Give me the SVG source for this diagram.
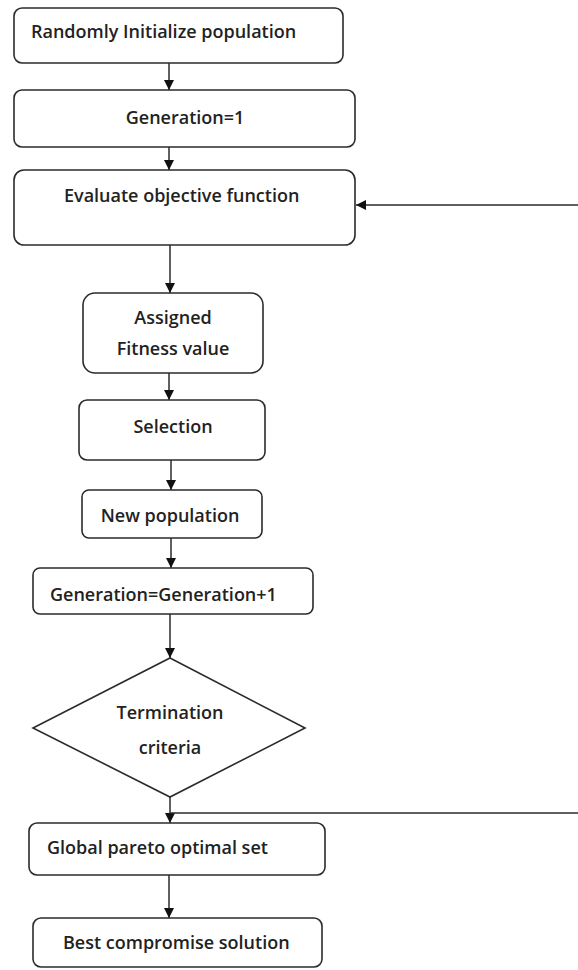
<svg xmlns="http://www.w3.org/2000/svg" width="578" height="970" viewBox="0 0 578 970">
<style>
.box{fill:#fff;stroke:#2b2b2b;stroke-width:1.6}
.t{font-family:"Open Sans","Liberation Sans",sans-serif;font-size:18px;font-weight:600;fill:#222}
.c{fill:none;stroke:#2b2b2b;stroke-width:1.5}
</style>
<defs>
<marker id="ah" viewBox="0 0 10 10" refX="10" refY="5" markerWidth="10" markerHeight="10" markerUnits="userSpaceOnUse" orient="auto">
<path d="M0,0 L10,5 L0,10 Z" fill="#111"/>
</marker>
</defs>
<rect width="578" height="970" fill="#fff"/>
<g id="connectors">
<line class="c" x1="169" y1="63" x2="169" y2="90" marker-end="url(#ah)"/>
<line class="c" x1="169" y1="147" x2="169" y2="170" marker-end="url(#ah)"/>
<line class="c" x1="578" y1="205" x2="356" y2="205" marker-end="url(#ah)"/>
<line class="c" x1="170" y1="245" x2="170" y2="293" marker-end="url(#ah)"/>
<line class="c" x1="169" y1="373" x2="169" y2="400" marker-end="url(#ah)"/>
<line class="c" x1="171" y1="460" x2="171" y2="490" marker-end="url(#ah)"/>
<line class="c" x1="171" y1="538" x2="171" y2="568" marker-end="url(#ah)"/>
<line class="c" x1="170" y1="614" x2="170" y2="658" marker-end="url(#ah)"/>
<line class="c" x1="170" y1="797" x2="170" y2="823" marker-end="url(#ah)"/>
<line class="c" x1="170" y1="813" x2="578" y2="813"/>
<line class="c" x1="169" y1="875" x2="169" y2="918" marker-end="url(#ah)"/>
</g>
<g id="n1"><rect class="box" x="14" y="8" width="329" height="55" rx="8"/><text class="t" x="31" y="38">Randomly Initialize population</text></g>
<g id="n2"><rect class="box" x="14" y="90" width="341" height="57" rx="8"/><text class="t" x="185" y="124" text-anchor="middle">Generation=1</text></g>
<g id="n3"><rect class="box" x="14" y="170" width="341" height="75" rx="10"/><text class="t" x="64" y="202">Evaluate objective function</text></g>
<g id="n4"><rect class="box" x="83" y="293" width="180" height="80" rx="12"/><text class="t" x="173" y="324" text-anchor="middle">Assigned</text><text class="t" x="173" y="355" text-anchor="middle">Fitness value</text></g>
<g id="n5"><rect class="box" x="79" y="400" width="186" height="60" rx="8"/><text class="t" x="173" y="433" text-anchor="middle">Selection</text></g>
<g id="n6"><rect class="box" x="82" y="490" width="180" height="48" rx="7"/><text class="t" x="170" y="522" text-anchor="middle">New population</text></g>
<g id="n7"><rect class="box" x="33" y="568" width="280" height="46" rx="7"/><text class="t" x="50" y="601">Generation=Generation+1</text></g>
<g id="n8"><polygon class="box" points="170,658 305,728 170,797 33,728"/><text class="t" x="170" y="719" text-anchor="middle">Termination</text><text class="t" x="170" y="754" text-anchor="middle">criteria</text></g>
<g id="n9"><rect class="box" x="29" y="823" width="296" height="52" rx="8"/><text class="t" x="47" y="854">Global pareto optimal set</text></g>
<g id="n10"><rect class="box" x="33" y="918" width="289" height="49" rx="8"/><text class="t" x="63" y="949">Best compromise solution</text></g>
</svg>
